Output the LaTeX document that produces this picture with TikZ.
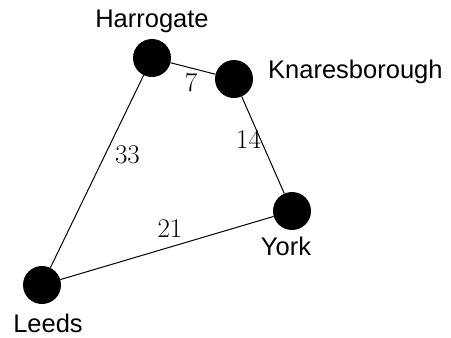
\documentclass[tikz,border=0pt]{standalone}
\usepackage{fontspec}
\setsansfont{Liberation Sans}
\begin{document}
\begin{tikzpicture}[x=1pt,y=-1pt,
  town/.style={circle,fill=black,minimum size=38pt,inner sep=0pt},
  tname/.style={font=\sffamily\fontsize{25.5}{30}\selectfont,anchor=base,inner sep=0pt},
  dist/.style={font=\fontsize{27}{32}\selectfont,anchor=base,inner sep=0pt}]
\useasboundingbox (0,0) rectangle (451,338);
\node[town] (h) at (152,58) {};
\node[town] (k) at (234,79) {};
\node[town] (y) at (292,211) {};
\node[town] (l) at (42,285) {};
\draw[line width=1pt] (h) -- (k) -- (y) -- (l) -- (h);
\node[tname] (hl) at (152,27) {Harrogate};
\node[tname,anchor=base west] (kl) at (268,78) {Knaresborough};
\node[tname] (yl) at (286,255) {York};
\node[tname] (ll) at (48,332) {Leeds};
\node[dist] (d7) at (191,91) {7};
\node[dist] (d14) at (248.5,148) {14};
\node[dist] (d33) at (127.5,163) {33};
\node[dist] (d21) at (170,237) {21};
\end{tikzpicture}
\end{document}
